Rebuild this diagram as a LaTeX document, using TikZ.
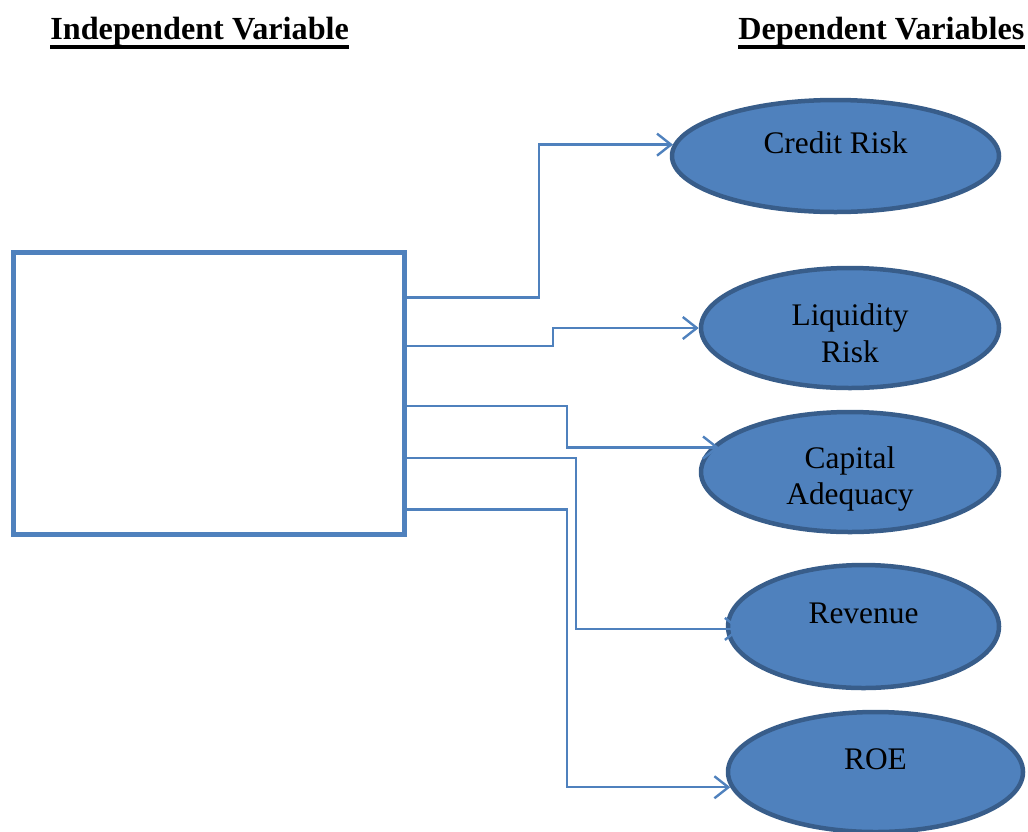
\documentclass[tikz,border=0pt]{standalone}
\usepackage{fontspec}
\setmainfont{Liberation Serif}
\usetikzlibrary{shapes.geometric,arrows.meta}
\definecolor{linkblue}{HTML}{4F81BD}
\definecolor{ovalfill}{HTML}{4F81BD}
\definecolor{ovaledge}{HTML}{385D8A}
\tikzset{
  ivbox/.style={draw=linkblue, line width=2.5pt, inner sep=0pt},
  dv/.style={ellipse, draw=ovaledge, fill=ovalfill, line width=2.25pt, inner sep=0pt},
  dvtext/.style={anchor=base, font=\fontsize{15.7}{18.5}\selectfont, inner sep=0pt},
  link/.style={draw=linkblue, line width=1.2pt, -{Straight Barb[length=7pt,width=11pt]}},
  heading/.style={anchor=base west, font=\fontsize{16.1}{19}\selectfont\bfseries, inner sep=0pt},
}
\begin{document}
\begin{tikzpicture}[x=0.5pt,y=-0.5pt]
\useasboundingbox (0,0) rectangle (1028,831);
% headings
\node[heading] (ivh) at (50,39) {Independent Variable};
\node[heading] (dvh) at (738,39) {Dependent Variables};
\draw[line width=2pt] ([yshift=-0.5pt]ivh.south west) -- ([yshift=-0.5pt]ivh.south east);
\draw[line width=2pt] ([yshift=-0.5pt]dvh.south west) -- ([yshift=-0.5pt]dvh.south east);

% independent variable (empty box)
\node[ivbox, minimum width=195.5pt, minimum height=141pt] (box) at (209,393.5) {};

% dependent variables
\node[dv, minimum width=163.5pt, minimum height=56pt] (cr) at (835.5,156) {};
\node[dv, minimum width=149pt, minimum height=60pt] (lr) at (850,328) {};
\node[dv, minimum width=149pt, minimum height=60pt] (ca) at (850,472) {};
\node[dv, minimum width=135.5pt, minimum height=61.5pt] (rv) at (863.5,626.5) {};
\node[dv, minimum width=147.5pt, minimum height=60pt] (roe) at (875.5,772) {};

\node[dvtext] (crt) at ([yshift=1.5pt]cr.center) {Credit Risk};
\node[dvtext] (lrt1) at ([yshift=1.5pt]lr.center) {Liquidity};
\node[dvtext] (lrt2) at ([yshift=-17pt]lr.center) {Risk};
\node[dvtext] (cat1) at ([yshift=2pt]ca.center) {Capital};
\node[dvtext] (cat2) at ([yshift=-16pt]ca.center) {Adequacy};
\node[dvtext] (rvt) at ([yshift=1.75pt]rv.center) {Revenue};
\node[dvtext] (roet) at ([yshift=1.5pt]roe.center) {ROE};

% connectors
\coordinate (o1) at ([yshift=-23.75pt]box.north east);
\coordinate (o2) at ([yshift=-48pt]box.north east);
\coordinate (o3) at ([yshift=-78pt]box.north east);
\coordinate (o4) at ([yshift=-104pt]box.north east);
\coordinate (o5) at ([yshift=-129.75pt]box.north east);
\draw[link] (o1) -- ++(132,0) |- (cr.176.4);
\draw[link] (o2) -- ++(146,0) |- (lr.180);
\draw[link, shorten >=-4pt] (o3) -- ++(160,0) |- (ca.170.5);
\draw[link, shorten >=-7.5pt] (o4) -- ++(169,0) |- (rv.181);
\draw[link] (o5) -- ++(160,0) |- (roe.186.4);
\end{tikzpicture}
\end{document}
